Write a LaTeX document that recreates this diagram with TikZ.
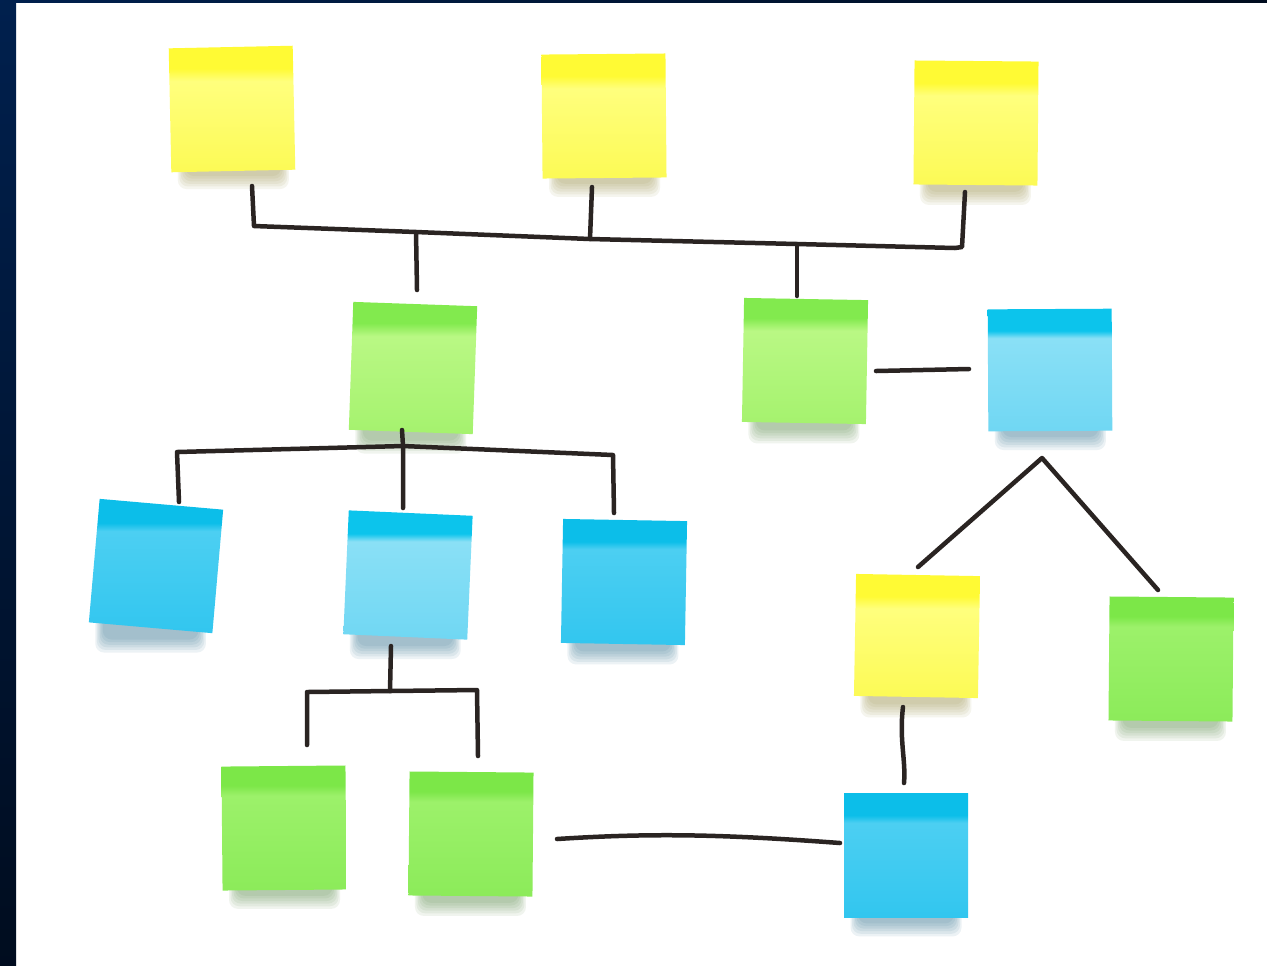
\documentclass[tikz,border=0pt]{standalone}
\usetikzlibrary{calc}
\definecolor{ink}{RGB}{42,36,34}
\definecolor{navytop}{RGB}{0,32,78}
\definecolor{navybot}{RGB}{0,12,30}
\definecolor{ybot}{RGB}{252,250,85}
\definecolor{ytop}{RGB}{255,255,125}
\definecolor{yband}{RGB}{255,250,52}
\definecolor{gbot}{RGB}{165,242,110}
\definecolor{gtop}{RGB}{185,248,132}
\definecolor{gband}{RGB}{130,234,78}
\definecolor{gbotb}{RGB}{140,235,90}
\definecolor{gtopb}{RGB}{156,241,106}
\definecolor{gbandb}{RGB}{124,231,72}
\definecolor{bbot}{RGB}{112,215,243}
\definecolor{btop}{RGB}{138,224,246}
\definecolor{bband}{RGB}{12,196,236}
\definecolor{bbotb}{RGB}{50,198,239}
\definecolor{btopb}{RGB}{76,207,242}
\definecolor{bbandb}{RGB}{12,190,233}
\definecolor{yshadow}{RGB}{150,140,60}
\definecolor{gshadow}{RGB}{85,135,65}
\definecolor{bshadow}{RGB}{40,105,140}
\pgfdeclareverticalshading{yshd}{100bp}{color(0bp)=(ybot); color(25bp)=(ybot); color(61bp)=(ytop); color(66bp)=(yband); color(100bp)=(yband)}
\pgfdeclareverticalshading{gshd}{100bp}{color(0bp)=(gbot); color(25bp)=(gbot); color(62bp)=(gtop); color(67bp)=(gband); color(100bp)=(gband)}
\pgfdeclareverticalshading{gshdb}{100bp}{color(0bp)=(gbotb); color(25bp)=(gbotb); color(63bp)=(gtopb); color(67bp)=(gbandb); color(100bp)=(gbandb)}
\pgfdeclareverticalshading{bshd}{100bp}{color(0bp)=(bbot); color(25bp)=(bbot); color(63bp)=(btop); color(66bp)=(bband); color(100bp)=(bband)}
\pgfdeclareverticalshading{bshdb}{100bp}{color(0bp)=(bbotb); color(25bp)=(bbotb); color(63bp)=(btopb); color(66bp)=(bbandb); color(100bp)=(bbandb)}
\pgfdeclarelayer{back}
\pgfdeclarelayer{shadowlayer}
\pgfsetlayers{back,shadowlayer,main}
\tikzset{
  note/.style={shade, shading=#1, minimum width=2.48cm, minimum height=2.48cm,
    inner sep=0pt, outer sep=0pt},
  wire/.style={draw=ink, line width=0.09cm, line cap=round, line join=round},
}
\newcommand{\noteshadow}[2]{%
  \foreach \k in {1,...,6}{%
    \fill[#2, opacity=0.085, rounded corners=5pt]
      ($(#1.south west)+(5+\k*1.5,-10)$) rectangle ($(#1.south east)+(-5-\k*1.5,22-\k*2.6)$);
  }}
\begin{document}
\begin{tikzpicture}[x=0.02cm, y=-0.02cm]
\useasboundingbox (0,0) rectangle (1267,965);
\begin{pgfonlayer}{back}
  \fill[white] (-10,-10) rectangle (1280,980);
  \shade[top color=navytop, bottom color=navybot] (-10,-10) rectangle (16,980);
  \shade[left color=navytop, right color=navybot] (-10,-10) rectangle (1280,2.5);
\end{pgfonlayer}

% notes
\node[note=yshd, rotate=1.2] (Y1) at (232,109) {};
\node[note=yshd, rotate=0.5] (Y2) at (604,116) {};
\node[note=yshd, rotate=-0.5] (Y3) at (976,123) {};
\node[note=gshd, rotate=-2, minimum height=2.56cm] (GL) at (413,368) {};
\node[note=gshd, rotate=-1] (GR) at (805,361) {};
\node[note=bshd, rotate=0.3, minimum height=2.44cm] (BR) at (1050,370) {};
\node[note=bshdb, rotate=-5] (B1) at (156,566) {};
\node[note=bshd, rotate=-2.5] (B2) at (408,575) {};
\node[note=bshdb, rotate=-1] (B3) at (624,582) {};
\node[note=yshd, rotate=-1, minimum height=2.44cm] (YR) at (917,636) {};
\node[note=gshdb, rotate=-0.5] (GRR) at (1171,659) {};
\node[note=gshdb, rotate=0.5] (G1) at (284,828) {};
\node[note=gshdb, rotate=-0.5] (G2) at (471,834) {};
\node[note=bshdb] (BB) at (906,855) {};

\begin{pgfonlayer}{shadowlayer}
  \noteshadow{Y1}{yshadow}\noteshadow{Y2}{yshadow}\noteshadow{Y3}{yshadow}
  \noteshadow{GL}{gshadow}\noteshadow{GR}{gshadow}\noteshadow{BR}{bshadow}
  \noteshadow{B1}{bshadow}\noteshadow{B2}{bshadow}\noteshadow{B3}{bshadow}
  \noteshadow{YR}{yshadow}\noteshadow{GRR}{gshadow}
  \noteshadow{G1}{gshadow}\noteshadow{G2}{gshadow}\noteshadow{BB}{bshadow}
\end{pgfonlayer}

% connector coordinates
\coordinate (t1) at (252,186);
\coordinate (t1c) at (254,226);
\coordinate (jL) at (416,232);
\coordinate (jY2) at (590,239);
\coordinate (jR) at (797,244);
\coordinate (t3c) at (955,248);
\coordinate (t3h) at (962,247);
\coordinate (t3) at (965,192);
\coordinate (y2a) at (592,187);
\coordinate (gLt) at (417,290);
\coordinate (gRt) at (797,296);
\coordinate (gr1) at (876,371);
\coordinate (br1) at (969,369);
\coordinate (glb) at (402,430);
\coordinate (b2t) at (403,508);
\coordinate (j3) at (403,446);
\coordinate (b1c) at (177,452);
\coordinate (b1t) at (179,502);
\coordinate (b3c) at (613,455);
\coordinate (b3t) at (614,513);
\coordinate (apex) at (1042,458);
\coordinate (yrt) at (918,567);
\coordinate (grt) at (1158,590);
\coordinate (b2b) at (391,646);
\coordinate (j4) at (390,691);
\coordinate (g1c) at (307,692);
\coordinate (g1t) at (307,745);
\coordinate (g2c) at (477,690);
\coordinate (g2t) at (478,756);
\coordinate (g2r) at (557,839);
\coordinate (bbl) at (840,843);
\coordinate (yrb) at (903,707);
\coordinate (bbt) at (904,783);

% connectors
\draw[wire] (t1) -- (t1c) -- (jL) -- (jY2) -- (jR) -- (t3c) -- (t3h) -- (t3);
\draw[wire] (y2a) -- (jY2);
\draw[wire] (jL) -- (gLt);
\draw[wire] (jR) -- (gRt);
\draw[wire] (gr1) -- (br1);
\draw[wire] (glb) -- (j3) -- (b2t);
\draw[wire] (b1t) -- (b1c) -- (j3) -- (b3c) -- (b3t);
\draw[wire] (yrt) -- (apex) -- (grt);
\draw[wire] (b2b) -- (j4);
\draw[wire] (g1t) -- (g1c) -- (j4) -- (g2c) -- (g2t);
\draw[wire] (g2r) .. controls (650,833) and (720,834) .. (bbl);
\draw[wire] (yrb) .. controls (899,740) and (906,760) .. (bbt);
\end{tikzpicture}
\end{document}
